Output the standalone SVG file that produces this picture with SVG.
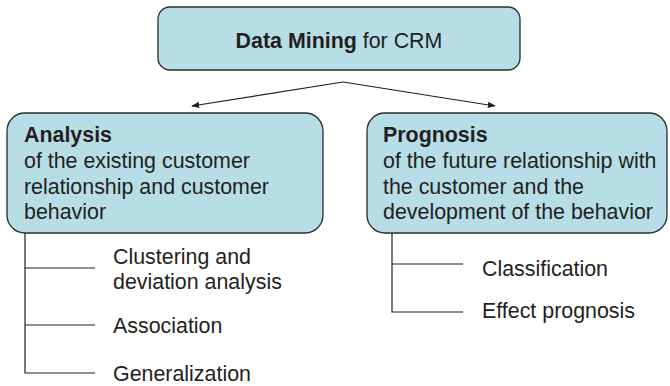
<svg xmlns="http://www.w3.org/2000/svg" width="670" height="386" viewBox="0 0 670 386">
<style>
.box{fill:#b7dde6;stroke:#2b2b2b;stroke-width:1.3}
.t{font-family:"Liberation Sans",Arial,sans-serif;font-size:21.4px;fill:#231f20}
.b{font-weight:bold}
.ln{stroke:#231f20;stroke-width:1.2;fill:none}
</style>
<defs>
<marker id="ah" viewBox="0 0 10 10" refX="9" refY="5" markerWidth="8" markerHeight="8" orient="auto" markerUnits="userSpaceOnUse">
<path d="M0,1 L10,5 L0,9 Z" fill="#231f20"/>
</marker>
</defs>
<g id="root">
<rect class="box" x="158" y="7" width="362" height="63" rx="12"/>
<text class="t" x="339" y="48" text-anchor="middle"><tspan class="b">Data Mining</tspan> for CRM</text>
</g>
<g id="analysis">
<rect class="box" x="7" y="113" width="316" height="120" rx="18"/>
<text class="t b" x="24" y="142">Analysis</text>
<text class="t" x="24" y="168">of the existing customer</text>
<text class="t" x="24" y="194">relationship and customer</text>
<text class="t" x="24" y="219">behavior</text>
</g>
<g id="prognosis">
<rect class="box" x="367" y="113" width="300" height="120" rx="18"/>
<text class="t b" x="383" y="142">Prognosis</text>
<text class="t" x="383" y="168">of the future relationship with</text>
<text class="t" x="383" y="194">the customer and the</text>
<text class="t" x="383" y="219">development of the behavior</text>
</g>
<g id="clustering"><text class="t" x="113" y="264">Clustering and</text><text class="t" x="113" y="289">deviation analysis</text></g>
<g id="association"><text class="t" x="113" y="333">Association</text></g>
<g id="generalization"><text class="t" x="113" y="381">Generalization</text></g>
<g id="classification"><text class="t" x="482" y="276">Classification</text></g>
<g id="effect"><text class="t" x="482" y="318">Effect prognosis</text></g>
<g id="connectors">
<line class="ln" x1="343" y1="82" x2="192" y2="106" marker-end="url(#ah)"/>
<line class="ln" x1="343" y1="82" x2="495" y2="106" marker-end="url(#ah)"/>
<polyline class="ln" points="25,233 25,373 95,373"/>
<line class="ln" x1="25" y1="268" x2="95" y2="268"/>
<line class="ln" x1="25" y1="325" x2="95" y2="325"/>
<polyline class="ln" points="392,233 392,312 463,312"/>
<line class="ln" x1="392" y1="264" x2="463" y2="264"/>
</g>
</svg>
